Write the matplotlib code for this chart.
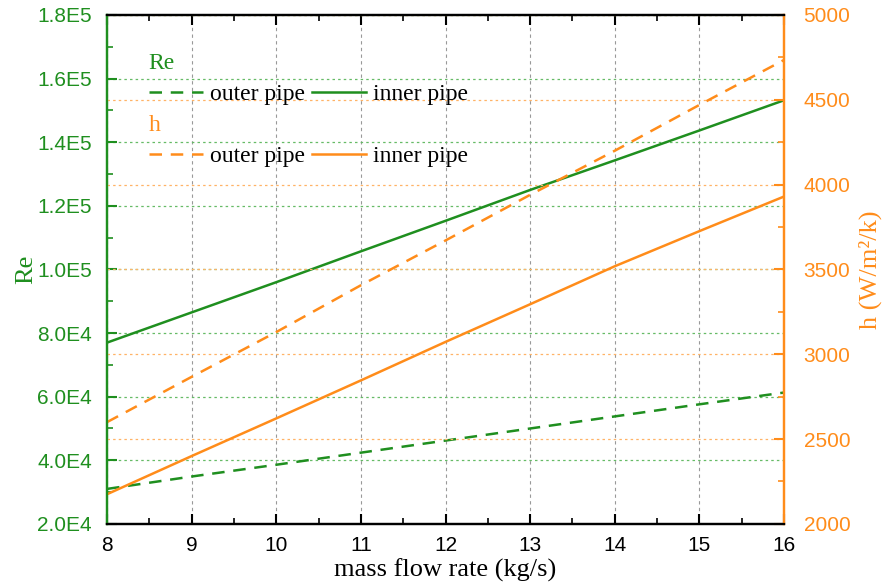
import numpy as np
import matplotlib
matplotlib.use("Agg")
import matplotlib.pyplot as plt
from matplotlib.ticker import MultipleLocator, FuncFormatter

# data
mass_flow = [8, 9, 10, 11, 12, 13, 14, 15, 16]
re_inner = [7.70e4, 8.65e4, 9.60e4, 1.057e5, 1.153e5, 1.250e5, 1.343e5, 1.437e5, 1.532e5]
re_outer = [3.10e4, 3.49e4, 3.86e4, 4.24e4, 4.62e4, 5.00e4, 5.38e4, 5.76e4, 6.13e4]
h_inner = [2175, 2400, 2622, 2846, 3073, 3295, 3519, 3726, 3930]
h_outer = [2600, 2867, 3131, 3407, 3671, 3940, 4200, 4470, 4735]

GREEN = "#1f8f1f"
ORANGE = "#ff8c1a"
SERIF = "Liberation Serif"
SANS = "Liberation Sans"


def sci_fmt(v, pos):
    s = f"{v:.1E}"
    mant, exp = s.split("E")
    return f"{mant}E{int(exp)}"


fig = plt.figure(figsize=(8.92, 5.88), dpi=100)
ax = fig.add_axes([0.12, 0.109, 0.759, 0.8655])
ax2 = ax.twinx()

# grids
ax.set_xlim(8, 16)
ax.set_ylim(2e4, 1.8e5)
ax2.set_ylim(2000, 5000)
ax.xaxis.set_major_locator(MultipleLocator(1))
ax.xaxis.set_minor_locator(MultipleLocator(0.5))
ax.yaxis.set_major_locator(MultipleLocator(2e4))
ax.yaxis.set_minor_locator(MultipleLocator(1e4))
ax2.yaxis.set_major_locator(MultipleLocator(500))
ax2.yaxis.set_minor_locator(MultipleLocator(250))

ax.grid(axis="x", color="#999999", linestyle=(0, (3, 3)), linewidth=0.8)
ax.grid(axis="y", color="#66bb66", linestyle=(0, (2, 2.5)), linewidth=0.9)
ax2.grid(axis="y", color="#ffb366", linestyle=(0, (2, 2.5)), linewidth=0.9)

# lines
l_re_out, = ax.plot(mass_flow, re_outer, color=GREEN, lw=1.8, ls=(0, (5, 3.5)), label="outer pipe")
l_re_in, = ax.plot(mass_flow, re_inner, color=GREEN, lw=1.8, label="inner pipe")
l_h_out, = ax2.plot(mass_flow, h_outer, color=ORANGE, lw=1.8, ls=(0, (5, 3.5)), label="outer pipe")
l_h_in, = ax2.plot(mass_flow, h_inner, color=ORANGE, lw=1.8, label="inner pipe")

# ticks
ax.tick_params(axis="x", which="both", direction="in", top=True, colors="black",
               labelsize=15, pad=9)
ax.tick_params(axis="x", which="major", length=7, width=1.5)
ax.tick_params(axis="x", which="minor", length=4, width=1.2)
ax.tick_params(axis="y", which="both", direction="in", colors=GREEN, labelsize=15, pad=11)
ax.tick_params(axis="y", which="major", length=7, width=1.5)
ax.tick_params(axis="y", which="minor", length=4, width=1.2)
ax2.tick_params(axis="y", which="both", direction="in", colors=ORANGE, labelsize=15, pad=14)
ax2.tick_params(axis="y", which="major", length=7, width=1.5)
ax2.tick_params(axis="y", which="minor", length=4, width=1.2)
ax.yaxis.set_major_formatter(FuncFormatter(sci_fmt))
for lab in ax.get_xticklabels() + ax.get_yticklabels() + ax2.get_yticklabels():
    lab.set_fontfamily(SANS)

# spines
for a in (ax, ax2):
    a.spines["top"].set_color("black")
    a.spines["bottom"].set_color("black")
    a.spines["left"].set_color(GREEN)
    a.spines["right"].set_color(ORANGE)
    for s in a.spines.values():
        s.set_linewidth(1.6)

ax.set_xlabel("mass flow rate (kg/s)", fontfamily=SERIF, fontsize=19, labelpad=2)
ax.set_ylabel("Re", fontfamily=SERIF, fontsize=19, color=GREEN, labelpad=0)
ax2.set_ylabel("h (W/m²/k)", fontfamily=SERIF, fontsize=19, color=ORANGE, labelpad=6)

# legends
leg_props = dict(prop={"family": SERIF, "size": 17}, frameon=False, ncol=2,
                 handlelength=2.3, handletextpad=0.3, columnspacing=0.3,
                 alignment="left", borderpad=0.2, labelspacing=0.42,
                 title_fontproperties={"family": SERIF, "size": 17})
leg1 = ax2.legend(handles=[l_re_out, l_re_in], title="Re", loc="upper left",
                  bbox_to_anchor=(0.037, 0.958), **leg_props)
leg1.get_title().set_color(GREEN)
ax2.add_artist(leg1)
leg2 = ax2.legend(handles=[l_h_out, l_h_in], title="h", loc="upper left",
                  bbox_to_anchor=(0.037, 0.836), **leg_props)
leg2.get_title().set_color(ORANGE)

fig.savefig("out.png", dpi=100)
